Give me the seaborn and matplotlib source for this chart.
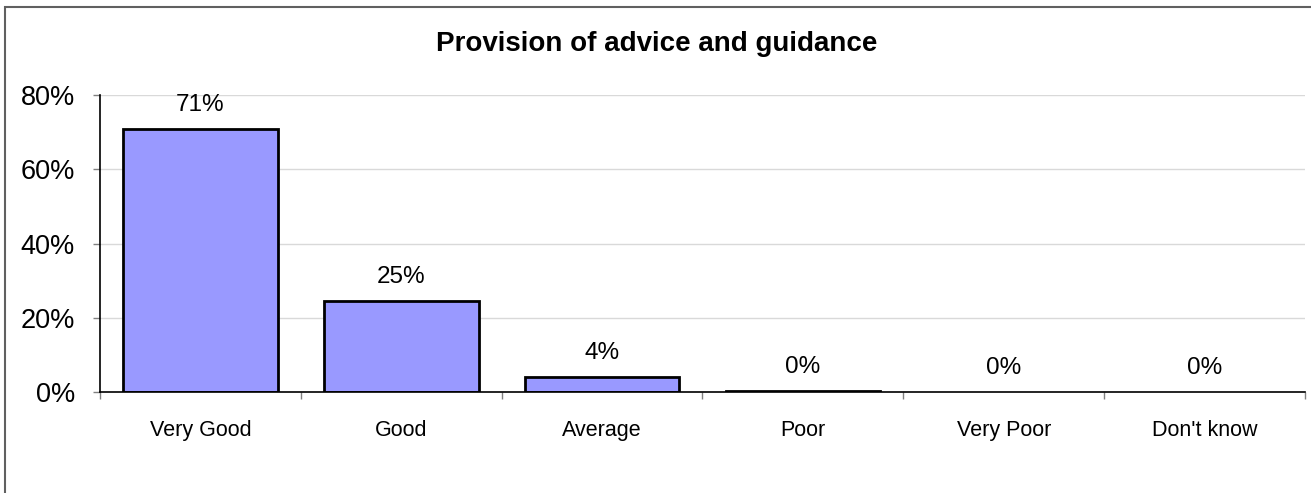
import numpy as np
import pandas as pd
import seaborn as sns
import matplotlib.pyplot as plt
from matplotlib.patches import Rectangle

categories = ["Very Good", "Good", "Average", "Poor", "Very Poor", "Don't know"]
percent = [70.9, 24.6, 4.1, 0.4, 0.0, 0.0]
y_ticks = [0, 20, 40, 60, 80]
title = "Provision of advice and guidance"

df = pd.DataFrame({"rating": categories, "percent": percent})

sns.set_style("white")
plt.rcParams["font.family"] = ["Liberation Sans", "DejaVu Sans"]
plt.rcParams["text.color"] = "black"
plt.rcParams["xtick.color"] = "black"
plt.rcParams["ytick.color"] = "black"

fig = plt.figure(figsize=(13.11, 4.93), dpi=100)
ax = fig.add_axes([100 / 1311, 1 - 392 / 493, 1205 / 1311, 297 / 493])

sns.barplot(data=df, x="rating", y="percent", color="#9999ff",
            saturation=1, edgecolor="black", linewidth=2, width=0.77, ax=ax)
# empty bars draw no outline
for bar in ax.patches:
    if bar.get_height() == 0:
        bar.set_linewidth(0)

for i, v in enumerate(percent):
    ax.annotate("{:.0f}%".format(v), (i, v), xytext=(0, 9),
                textcoords="offset points", ha="center", va="bottom",
                fontsize=17.5, color="black")

ax.set_xlim(-0.5, len(categories) - 0.5)
ax.set_ylim(0, 80)
ax.set_yticks(y_ticks)
ax.set_yticklabels(["{}%".format(t) for t in y_ticks], fontsize=19.5)
ax.yaxis.grid(True, color="#d9d9d9", linewidth=1)
ax.set_axisbelow(True)
ax.tick_params(axis="y", which="major", left=True, length=5, width=1,
               color="#808080", pad=13)

ax.set_xticks(range(len(categories)))
ax.set_xticklabels(categories, fontsize=15.5)
ax.set_xticks(np.arange(-0.5, len(categories)), minor=True)
ax.tick_params(axis="x", which="major", bottom=False, length=0, pad=20)
ax.tick_params(axis="x", which="minor", bottom=True, length=5, width=1,
               color="#808080")

ax.set_xlabel("")
ax.set_ylabel("")
sns.despine(ax=ax)
for s in ["left", "bottom"]:
    ax.spines[s].set_color("black")
    ax.spines[s].set_linewidth(1.2)

fig.text(657 / 1311, 1 - 44 / 493, title, ha="center", va="center",
         fontsize=20, fontweight="bold", color="black")

fig.patches.append(Rectangle((5 / 1311, -0.1), 1.2, 1 - 7 / 493 + 0.1,
                             transform=fig.transFigure, fill=False,
                             edgecolor="#606060", linewidth=1.5))

fig.savefig("out.png", dpi=100)
